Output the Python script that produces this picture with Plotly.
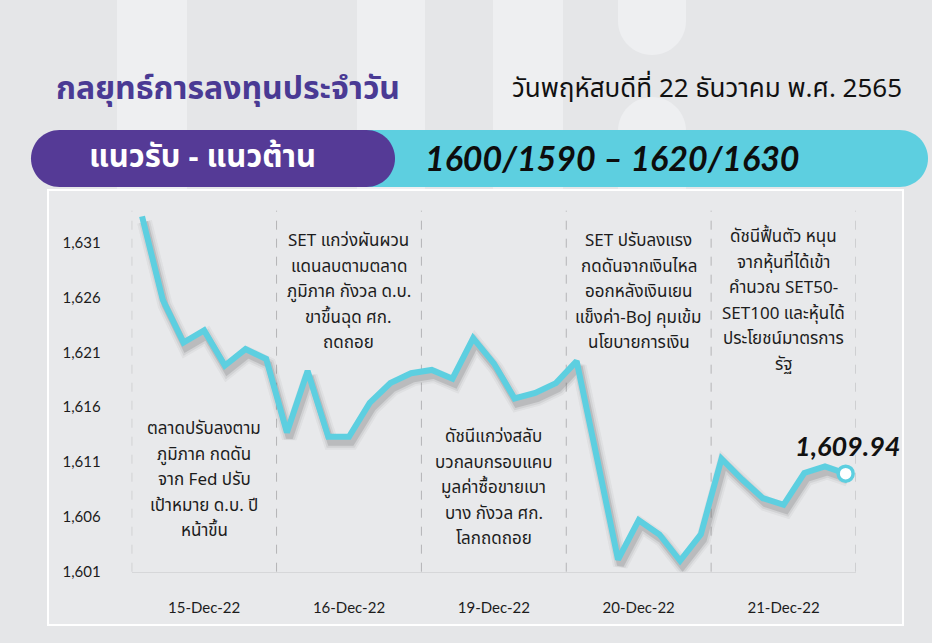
import plotly.graph_objects as go

# ---- data -------------------------------------------------------------
days = ["15-Dec-22", "16-Dec-22", "19-Dec-22", "20-Dec-22", "21-Dec-22"]
set_15 = [1633.4, 1625.8, 1621.9, 1623.0, 1619.8, 1621.3, 1620.4]
set_16 = [1613.7, 1619.3, 1613.3, 1613.3, 1616.4, 1618.2, 1619.1]
set_19 = [1619.4, 1618.6, 1622.3, 1620.0, 1616.8, 1617.3, 1618.2]
set_20 = [1620.2, 1611.2, 1602.1, 1605.7, 1604.4, 1602.0, 1604.4]
set_21 = [1611.3, 1609.4, 1607.7, 1607.1, 1610.0, 1610.6, 1609.94]
day_values = [set_15, set_16, set_19, set_20, set_21]

y_ticks = [1601, 1606, 1611, 1616, 1621, 1626, 1631]

notes_15 = ["ตลาดปรับลงตาม", "ภูมิภาค กดดัน", "จาก Fed ปรับ", "เป้าหมาย ด.บ. ปี", "หน้าขึ้น"]
notes_16 = ["SET แกว่งผันผวน", "แดนลบตามตลาด", "ภูมิภาค กังวล ด.บ.", "ขาขึ้นฉุด ศก.", "ถดถอย"]
notes_19 = ["ดัชนีแกว่งสลับ", "บวกลบกรอบแคบ", "มูลค่าซื้อขายเบา", "บาง กังวล ศก.", "โลกถดถอย"]
notes_20 = ["SET ปรับลงแรง", "กดดันจากเงินไหล", "ออกหลังเงินเยน", "แข็งค่า-BoJ คุมเข้ม", "นโยบายการเงิน"]
notes_21 = ["ดัชนีฟื้นตัว หนุน", "จากหุ้นที่ได้เข้า", "คำนวณ SET50-", "SET100 และหุ้นได้", "ประโยชน์มาตรการ", "รัฐ"]
day_notes = [notes_15, notes_16, notes_19, notes_20, notes_21]
# vertical position (page px) of each note block's first line
note_top_px = [429, 241, 437, 241, 237]

title_text = "กลยุทธ์การลงทุนประจำวัน"
date_text = "วันพฤหัสบดีที่ 22 ธันวาคม พ.ศ. 2565"
band_label = "แนวรับ - แนวต้าน"
band_value = "1600/1590 – 1620/1630"

# ---- page geometry helpers ---------------------------------------------
W, H = 932, 643
def px(x):
    return x / W
def py(y):
    return 1 - y / H

PURPLE = "#553a96"
CYAN = "#5dcfe0"
LIGHT = "#eeeff1"
THAI = "Noto Sans Thai, Noto Sans, Lato, sans-serif"
LATIN = "Lato, Noto Sans, sans-serif"

slots = len(set_15)
xs, ys = [], []
for d, vals in enumerate(day_values):
    for k, v in enumerate(vals):
        xs.append(d * slots + k)
        ys.append(v)

fig = go.Figure()

# soft drop shadow under the line
for w, op in [(15, 0.05), (11, 0.08), (7, 0.14)]:
    fig.add_trace(go.Scatter(
        x=[x + 0.12 for x in xs], y=[y - 0.5 for y in ys], mode="lines",
        line=dict(color=f"rgba(50,50,50,{op})", width=w),
        hoverinfo="skip", showlegend=False))

fig.add_trace(go.Scatter(
    x=xs, y=ys, mode="lines",
    line=dict(color=CYAN, width=6, shape="linear"),
    showlegend=False))

# closing value marker
fig.add_trace(go.Scatter(
    x=[xs[-1]], y=[ys[-1]], mode="markers",
    marker=dict(size=15, color="white", line=dict(color=CYAN, width=3.5)),
    showlegend=False))

shapes = []
# light vertical bands in the page background (upper area)
for x0, x1 in [(117, 187), (357, 425), (493, 563)]:
    shapes.append(dict(type="rect", xref="paper", yref="paper",
                       x0=px(x0), x1=px(x1), y0=py(190), y1=1,
                       fillcolor=LIGHT, line=dict(width=0), layer="below"))

def pill(x0, x1, y0, y1, round_left=True):
    r = (y1 - y0) / 2.0
    k = 0.5523 * r
    p = f"M {px(x0 + (r if round_left else 0))},{py(y0)} L {px(x1 - r)},{py(y0)} "
    p += f"C {px(x1 - r + k)},{py(y0)} {px(x1)},{py(y0 + r - k)} {px(x1)},{py(y0 + r)} "
    p += f"C {px(x1)},{py(y0 + r + k)} {px(x1 - r + k)},{py(y1)} {px(x1 - r)},{py(y1)} "
    if round_left:
        p += f"L {px(x0 + r)},{py(y1)} "
        p += f"C {px(x0 + r - k)},{py(y1)} {px(x0)},{py(y0 + r + k)} {px(x0)},{py(y0 + r)} "
        p += f"C {px(x0)},{py(y0 + r - k)} {px(x0 + r - k)},{py(y0)} {px(x0 + r)},{py(y0)} Z"
    else:
        p += f"L {px(x0)},{py(y1)} Z"
    return p

# rounded light column pieces at the top right of the page background
rr = 34
k = 0.5523 * rr
shapes.append(dict(type="path", xref="paper", yref="paper",
                   path=(f"M {px(618)},{py(0)} L {px(686)},{py(0)} L {px(686)},{py(55 - rr)} "
                         f"C {px(686)},{py(55 - rr + k)} {px(652 + k)},{py(55)} {px(652)},{py(55)} "
                         f"C {px(652 - k)},{py(55)} {px(618)},{py(55 - rr + k)} {px(618)},{py(55 - rr)} Z"),
                   fillcolor=LIGHT, line=dict(width=0), layer="below"))
shapes.append(dict(type="path", xref="paper", yref="paper",
                   path=(f"M {px(618)},{py(190)} L {px(618)},{py(97 + rr)} "
                         f"C {px(618)},{py(97 + rr - k)} {px(652 - k)},{py(97)} {px(652)},{py(97)} "
                         f"C {px(652 + k)},{py(97)} {px(686)},{py(97 + rr - k)} {px(686)},{py(97 + rr)} "
                         f"L {px(686)},{py(190)} Z"),
                   fillcolor=LIGHT, line=dict(width=0), layer="below"))

# chart panel
shapes.append(dict(type="rect", xref="paper", yref="paper",
                   x0=px(48), x1=px(903), y0=py(625), y1=py(190),
                   fillcolor="#e8e9eb", line=dict(color="white", width=2), layer="below"))
# support / resistance banner
shapes.append(dict(type="path", xref="paper", yref="paper", path=pill(360, 928, 130, 187, round_left=False),
                   fillcolor=CYAN, line=dict(width=0), layer="below"))
shapes.append(dict(type="path", xref="paper", yref="paper", path=pill(31, 395, 130, 187),
                   fillcolor=PURPLE, line=dict(width=0), layer="below"))

# dashed separators between trading days
for d in range(len(days) + 1):
    xb = d * slots - 0.5
    shapes.append(dict(type="line", xref="x", yref="paper", x0=xb, x1=xb,
                       y0=py(571.7), y1=py(210.7),
                       line=dict(color="#b4b4b6", width=1, dash="dash"), layer="below"))

annotations = []
for d, lines in enumerate(day_notes):
    for i, t in enumerate(lines):
        annotations.append(dict(
            x=d * slots + (slots - 1) / 2.0, xref="x",
            y=py(note_top_px[d] + i * 25.6), yref="paper",
            text=t, showarrow=False, xanchor="center", yanchor="middle",
            font=dict(family=THAI, size=17, color="#1c1c1c")))

annotations.append(dict(
    x=xs[-1], y=ys[-1], xref="x", yref="y", ax=2, ay=-28,
    text=f"<b><i>{ys[-1]:,.2f}</i></b>", showarrow=True, arrowcolor="rgba(0,0,0,0)",
    xanchor="center", yanchor="middle",
    font=dict(family=LATIN, size=27, color="#111111")))

annotations += [
    dict(x=px(54), y=py(89), xref="paper", yref="paper", text=f"<b>{title_text}</b>",
         showarrow=False, xanchor="left", yanchor="middle",
         font=dict(family=THAI, size=32, color="#4a3a94")),
    dict(x=px(904), y=py(89), xref="paper", yref="paper", text=date_text,
         showarrow=False, xanchor="right", yanchor="middle",
         font=dict(family=THAI, size=26, color="#111111")),
    dict(x=px(202), y=py(157), xref="paper", yref="paper", text=f"<b>{band_label}</b>",
         showarrow=False, xanchor="center", yanchor="middle",
         font=dict(family=THAI, size=31, color="white")),
    dict(x=px(612), y=py(158), xref="paper", yref="paper", text=f"<b><i>{band_value}</i></b>",
         showarrow=False, xanchor="center", yanchor="middle",
         font=dict(family=LATIN, size=34, color="#0d0d0d")),
]

fig.update_layout(
    width=W, height=H,
    autosize=False,
    margin=dict(l=0, r=0, t=0, b=0, pad=0, autoexpand=False),
    paper_bgcolor="#e5e6e8",
    plot_bgcolor="rgba(0,0,0,0)",
    shapes=shapes,
    annotations=annotations,
    xaxis=dict(
        domain=[px(131.7), px(856)],
        range=[-0.5, len(days) * slots - 0.5],
        tickvals=[d * slots + (slots - 1) / 2.0 for d in range(len(days))],
        ticktext=days,
        showgrid=False, zeroline=False, automargin=False,
        showline=True, linecolor="#d6d7d9", linewidth=1,
        ticks="", ticklabelstandoff=22,
        tickfont=dict(family=LATIN, size=15, color="#1c1c1c"),
    ),
    yaxis=dict(
        domain=[py(571.7), py(210.7)],
        range=[1601, 1633.92],
        tickvals=y_ticks, tickformat=",d", automargin=False,
        showgrid=False, zeroline=False, showline=False,
        ticks="", ticklabelstandoff=30,
        tickfont=dict(family=LATIN, size=15, color="#1c1c1c"),
    ),
)

fig.write_html("out.html")
